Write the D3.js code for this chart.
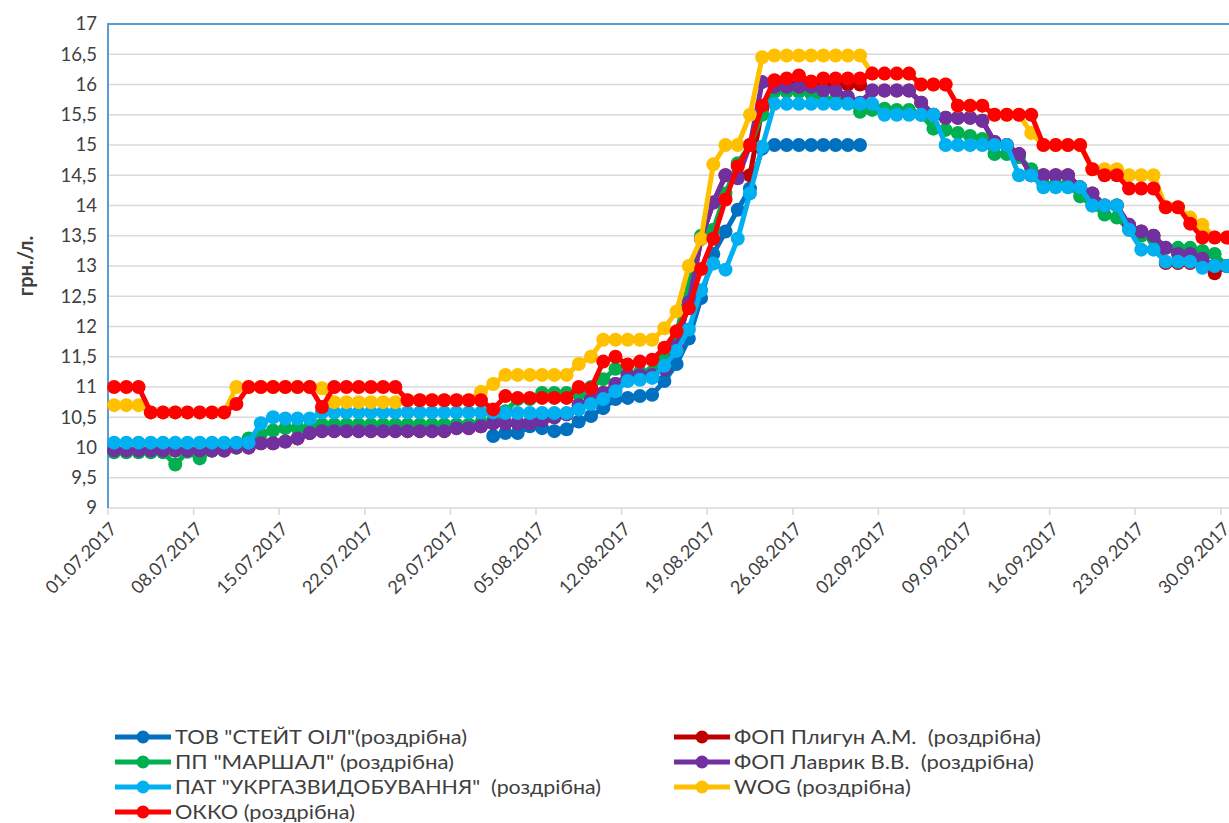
<!DOCTYPE html>
<html>
<head>
<meta charset="utf-8">
<script src="https://cdn.jsdelivr.net/npm/d3@7"></script>
<style>
  body { margin: 0; background: #fff; }
  text { font-family: Lato, "Open Sans", sans-serif; fill: #404040; }
</style>
</head>
<body>
<div id="chart"></div>
<script>
// categories: every day from 01.07.2017 to 30.09.2017
var days = d3.timeDay.range(new Date(2017, 6, 1), new Date(2017, 9, 1));
var fmt = d3.timeFormat("%d.%m.%Y");
var categories = days.map(function (d) { return fmt(d); });
var tickLabels = categories.filter(function (d, i) { return i % 7 === 0; });
var yTicks = [9, 9.5, 10, 10.5, 11, 11.5, 12, 12.5, 13, 13.5, 14, 14.5, 15, 15.5, 16, 16.5, 17];

// series values (грн./л.), one per day, null = no data
var stateOil = [
  null, null, null, null, null, null, null, null, null, null,
  null, null, null, null, null, null, null, null, null, null,
  null, null, null, null, null, null, null, null, null, null,
  null, 10.19, 10.24, 10.24, 10.35, 10.32, 10.27, 10.3, 10.43, 10.52,
  10.65, 10.8, 10.82, 10.85, 10.87, 11.1, 11.38, 11.8, 12.47, 13.2,
  13.57, 13.93, 14.28, 14.94, 15.0, 15.0, 15.0, 15.0, 15.0, 15.0,
  15.0, 15.0, null, null, null, null, null, null, null, null,
  null, null, null, null, null, null, null, null, null, null,
  null, null, null, null, null, null, null, null, null, null,
  null, null];

var plygun = [
  9.95, 9.95, 9.95, 9.95, 9.95, 9.95, 9.95, 9.95, 9.95, 9.95,
  10.0, 10.0, 10.07, 10.07, 10.1, 10.15, 10.24, 10.27, 10.27, 10.27,
  10.27, 10.27, 10.27, 10.27, 10.27, 10.27, 10.27, 10.27, 10.32, 10.32,
  10.35, 10.4, 10.4, 10.4, 10.4, 10.45, 10.5, 10.55, 10.7, 10.8,
  10.9, 11.05, 11.2, 11.2, 11.2, 11.3, 11.67, 12.4, 13.45, 14.05,
  14.5, 14.5, 14.5, 15.6, 16.0, 16.0, 16.0, 16.0, 16.0, 16.0,
  16.0, 16.0, 15.9, 15.9, 15.9, 15.9, 15.7, 15.5, 15.45, 15.45,
  15.45, 15.4, 15.05, 15.0, 14.85, 14.5, 14.5, 14.5, 14.5, 14.3,
  14.2, 14.0, 14.0, 13.68, 13.57, 13.5, 13.05, 13.05, 13.05, 13.05,
  12.88, 13.0];

var marshal = [
  9.92, 9.92, 9.92, 9.92, 9.92, 9.72, 9.93, 9.82, 9.95, 10.0,
  10.0, 10.15, 10.22, 10.28, 10.32, 10.32, 10.34, 10.38, 10.38, 10.38,
  10.38, 10.38, 10.38, 10.38, 10.38, 10.38, 10.38, 10.38, 10.38, 10.38,
  10.4, 10.45, 10.6, 10.8, 10.8, 10.9, 10.9, 10.9, 10.88, 11.0,
  11.13, 11.3, 11.2, 11.25, 11.25, 11.5, 11.9, 12.7, 13.5, 13.6,
  14.2, 14.7, 15.0, 15.5, 15.88, 15.88, 15.88, 15.85, 15.75, 15.75,
  15.75, 15.55, 15.58, 15.6, 15.58, 15.58, 15.5, 15.27, 15.25, 15.2,
  15.15, 15.1, 14.85, 14.85, 14.8, 14.6, 14.35, 14.35, 14.35, 14.15,
  14.0, 13.85, 13.8, 13.6, 13.5, 13.45, 13.3, 13.3, 13.3, 13.25,
  13.2, 13.0];

var lavryk = [
  9.95, 9.95, 9.95, 9.95, 9.95, 9.95, 9.95, 9.95, 9.95, 9.95,
  10.0, 10.0, 10.07, 10.07, 10.1, 10.15, 10.24, 10.27, 10.27, 10.27,
  10.27, 10.27, 10.27, 10.27, 10.27, 10.27, 10.27, 10.27, 10.32, 10.32,
  10.35, 10.4, 10.4, 10.4, 10.4, 10.45, 10.5, 10.55, 10.7, 10.8,
  10.9, 11.05, 11.2, 11.2, 11.2, 11.3, 11.67, 12.4, 13.45, 14.05,
  14.5, 14.45, 15.0, 16.04, 15.96, 15.96, 15.96, 15.96, 15.9, 15.9,
  15.8, 15.7, 15.9, 15.9, 15.9, 15.9, 15.7, 15.5, 15.45, 15.45,
  15.45, 15.4, 15.05, 15.0, 14.85, 14.5, 14.5, 14.5, 14.5, 14.3,
  14.2, 14.0, 14.0, 13.68, 13.57, 13.5, 13.3, 13.2, 13.2, 13.12,
  13.0, 13.0];

var ukrgaz = [
  10.08, 10.08, 10.08, 10.08, 10.08, 10.08, 10.08, 10.08, 10.08, 10.08,
  10.08, 10.08, 10.4, 10.5, 10.48, 10.48, 10.48, 10.58, 10.58, 10.58,
  10.58, 10.58, 10.58, 10.58, 10.58, 10.58, 10.58, 10.58, 10.58, 10.58,
  10.58, 10.58, 10.57, 10.57, 10.57, 10.57, 10.57, 10.57, 10.63, 10.72,
  10.8, 10.93, 11.1, 11.12, 11.15, 11.35, 11.6, 11.95, 12.6, 13.04,
  12.94, 13.45, 14.2, 14.97, 15.68, 15.68, 15.68, 15.68, 15.68, 15.68,
  15.68, 15.68, 15.68, 15.5, 15.5, 15.5, 15.5, 15.5, 15.0, 15.0,
  15.0, 15.0, 15.0, 15.0, 14.5, 14.5, 14.3, 14.3, 14.3, 14.3,
  14.0, 14.0, 14.0, 13.6, 13.27, 13.27, 13.07, 13.07, 13.07, 12.97,
  13.0, 13.0];

var wog = [
  10.7, 10.7, 10.7, 10.58, 10.58, 10.58, 10.58, 10.58, 10.58, 10.58,
  11.0, 11.0, 11.0, 11.0, 11.0, 11.0, 11.0, 10.98, 10.75, 10.75,
  10.75, 10.75, 10.75, 10.75, 10.78, 10.78, 10.78, 10.78, 10.78, 10.78,
  10.92, 11.05, 11.2, 11.2, 11.2, 11.2, 11.2, 11.2, 11.38, 11.5,
  11.78, 11.78, 11.78, 11.78, 11.78, 11.97, 12.25, 13.0, 13.45, 14.68,
  15.0, 15.0, 15.5, 16.45, 16.48, 16.48, 16.48, 16.48, 16.48, 16.48,
  16.48, 16.48, 16.18, 16.18, 16.18, 16.18, 16.0, 16.0, 16.0, 15.65,
  15.65, 15.65, 15.5, 15.5, 15.5, 15.2, 15.0, 15.0, 15.0, 15.0,
  14.6, 14.6, 14.6, 14.5, 14.5, 14.5, 13.97, 13.97, 13.8, 13.68,
  13.47, 13.47];

var okko = [
  11.0, 11.0, 11.0, 10.58, 10.58, 10.58, 10.58, 10.58, 10.58, 10.58,
  10.72, 11.0, 11.0, 11.0, 11.0, 11.0, 11.0, 10.67, 11.0, 11.0,
  11.0, 11.0, 11.0, 11.0, 10.78, 10.78, 10.78, 10.78, 10.78, 10.78,
  10.78, 10.63, 10.85, 10.82, 10.82, 10.82, 10.82, 10.82, 11.0, 10.98,
  11.42, 11.5, 11.37, 11.42, 11.45, 11.65, 11.92, 12.3, 12.95, 13.45,
  14.1, 14.65, 15.0, 15.65, 16.07, 16.1, 16.15, 16.05, 16.1, 16.1,
  16.1, 16.1, 16.18, 16.18, 16.18, 16.18, 16.0, 16.0, 16.0, 15.65,
  15.65, 15.65, 15.5, 15.5, 15.5, 15.5, 15.0, 15.0, 15.0, 15.0,
  14.6, 14.5, 14.5, 14.28, 14.28, 14.28, 13.97, 13.97, 13.7, 13.47,
  13.47, 13.47];

var seriesNames = [
  'ТОВ "СТЕЙТ ОІЛ"(роздрібна)',
  'ФОП Плигун А.М.  (роздрібна)',
  'ПП "МАРШАЛ" (роздрібна)',
  'ФОП Лаврик В.В.  (роздрібна)',
  'ПАТ "УКРГАЗВИДОБУВАННЯ"  (роздрібна)',
  'WOG (роздрібна)',
  'ОККО (роздрібна)'
];
var seriesValues = [stateOil, plygun, marshal, lavryk, ukrgaz, wog, okko];
var seriesColors = ["#0070C0", "#C00000", "#00B050", "#7030A0", "#00B0F0", "#FFC000", "#FF0000"];

var width = 1229, height = 823;
var plot = { left: 108, right: 1233, top: 24, bottom: 508 };

var svg = d3.select("#chart")
    .append("svg")
    .attr("width", width)
    .attr("height", height)
    .style("display", "block");

svg.append("rect").attr("width", width).attr("height", height).attr("fill", "#fff");

// scales
var x = d3.scaleBand()
    .domain(d3.range(categories.length))
    .range([plot.left, plot.right]);
var y = d3.scaleLinear()
    .domain([9, 17])
    .range([plot.bottom, plot.top]);

// grid lines
svg.append("g")
    .selectAll("line")
    .data(yTicks.slice(1, -1))
    .enter()
    .append("line")
    .attr("x1", plot.left)
    .attr("x2", plot.right)
    .attr("y1", function (d) { return y(d); })
    .attr("y2", function (d) { return y(d); })
    .attr("stroke", "#d9d9d9")
    .attr("stroke-width", 1.5);

// y axis labels
var yAxis = svg.append("g")
    .attr("transform", "translate(" + plot.left + ",0)")
    .call(d3.axisLeft(y)
        .tickValues(yTicks)
        .tickSize(0)
        .tickPadding(11)
        .tickFormat(function (d) { return String(d).replace(".", ","); }));
yAxis.select(".domain").remove();
yAxis.selectAll("text")
    .style("font-family", "Lato, sans-serif")
    .style("font-size", "18.5px")
    .attr("fill", "#404040");

svg.append("text")
    .attr("transform", "translate(33," + ((plot.top + plot.bottom) / 2) + ") rotate(-90)")
    .attr("text-anchor", "middle")
    .style("font-size", "20px")
    .style("font-weight", "bold")
    .text("грн./л.");

// x axis
var tickIdx = d3.range(0, categories.length, 7);
svg.append("line")
    .attr("x1", plot.left).attr("x2", plot.right)
    .attr("y1", plot.bottom).attr("y2", plot.bottom)
    .attr("stroke", "#d9d9d9").attr("stroke-width", 1.5);
svg.append("g")
    .selectAll("line")
    .data(tickIdx)
    .enter()
    .append("line")
    .attr("x1", function (i) { return x(i); })
    .attr("x2", function (i) { return x(i); })
    .attr("y1", plot.bottom)
    .attr("y2", plot.bottom + 7)
    .attr("stroke", "#d9d9d9")
    .attr("stroke-width", 1.5);
svg.append("g")
    .selectAll("text")
    .data(tickIdx)
    .enter()
    .append("text")
    .attr("transform", function (i) {
        return "translate(" + (x(i) + 10) + "," + (plot.bottom + 22) + ") rotate(-45)";
    })
    .attr("text-anchor", "end")
    .style("font-size", "18px")
    .text(function (i, k) { return tickLabels[k]; });

// plot border (left and top, blue)
svg.append("path")
    .attr("d", "M" + plot.left + "," + plot.bottom + "V" + plot.top + "H" + plot.right + "V" + plot.bottom)
    .attr("fill", "none")
    .attr("stroke", "#5B9BD5")
    .attr("stroke-width", 2);

// lines + markers
var cx = function (i) { return x(i) + x.bandwidth() / 2; };
var line = d3.line()
    .defined(function (d) { return d != null; })
    .x(function (d, i) { return cx(i); })
    .y(function (d) { return y(d); });

seriesValues.forEach(function (vals, s) {
    var g = svg.append("g");
    g.append("path")
        .datum(vals)
        .attr("d", line)
        .attr("fill", "none")
        .attr("stroke", seriesColors[s])
        .attr("stroke-width", 5)
        .attr("stroke-linejoin", "round");
    g.selectAll("circle")
        .data(vals.map(function (v, i) { return { v: v, i: i }; }).filter(function (d) { return d.v != null; }))
        .enter()
        .append("circle")
        .attr("cx", function (d) { return cx(d.i); })
        .attr("cy", function (d) { return y(d.v); })
        .attr("r", 7)
        .attr("fill", seriesColors[s]);
});

// legend, two columns filled row by row
var legendWidths = [292, 307, 279, 300, 426, 177, 180];
var legend = svg.append("g");
seriesNames.forEach(function (name, s) {
    var col = s % 2, row = Math.floor(s / 2);
    var lx = col === 0 ? 115 : 674;
    var ly = 737 + row * 25;
    var item = legend.append("g").attr("transform", "translate(" + lx + "," + ly + ")");
    item.append("line")
        .attr("x1", 0).attr("x2", 56)
        .attr("stroke", seriesColors[s])
        .attr("stroke-width", 5);
    item.append("circle")
        .attr("cx", 28).attr("r", 6.5)
        .attr("fill", seriesColors[s]);
    item.append("text")
        .attr("x", 60)
        .attr("dy", "0.36em")
        .style("font-size", "20px")
        .style("white-space", "pre")
        .attr("textLength", legendWidths[s])
        .attr("lengthAdjust", "spacingAndGlyphs")
        .attr("fill", "#000")
        .text(name);
});
</script>
</body>
</html>
